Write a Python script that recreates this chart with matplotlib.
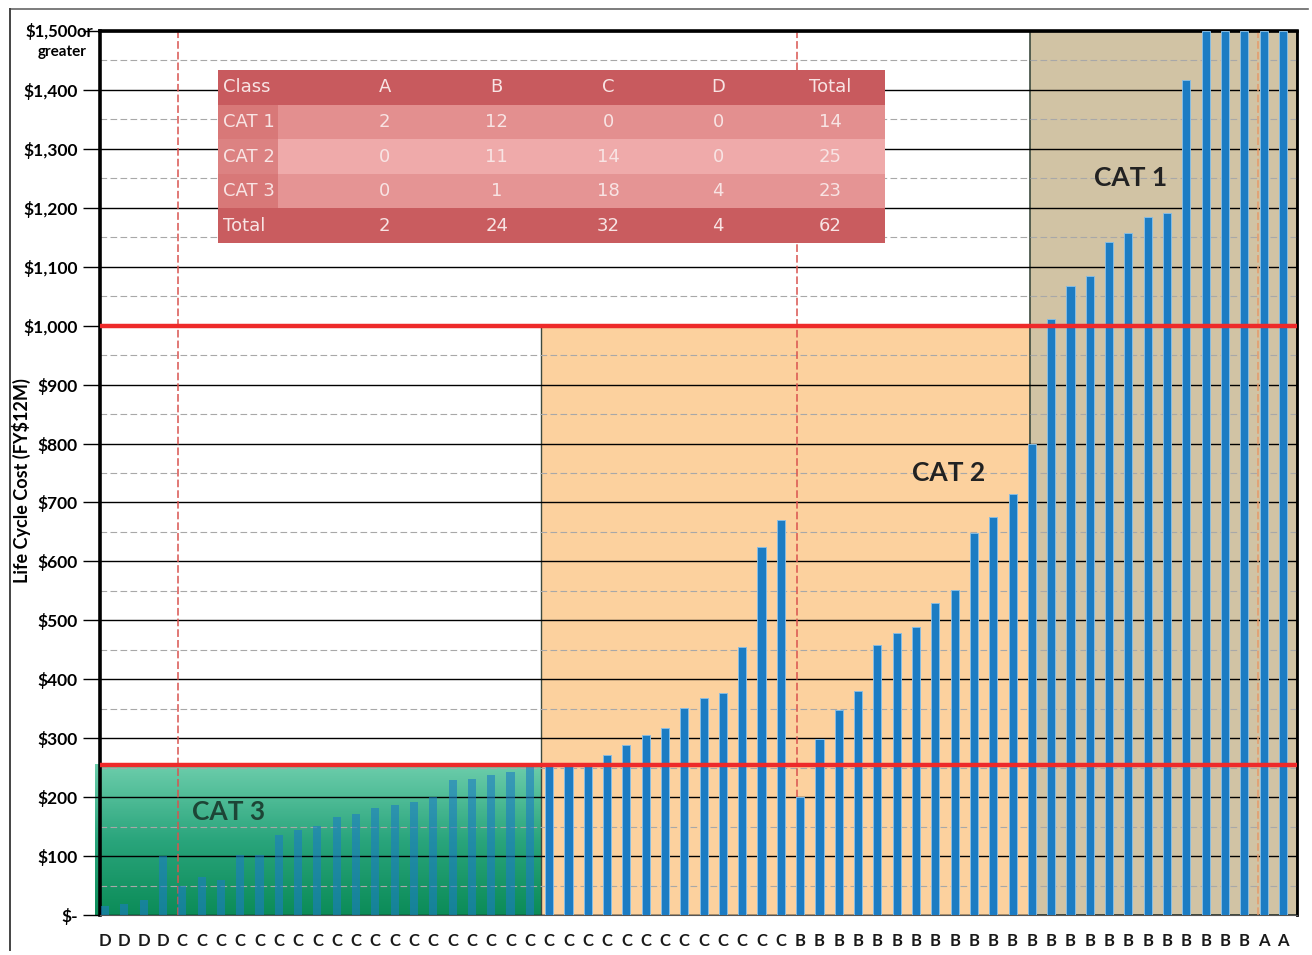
import numpy as np
import matplotlib
matplotlib.use("Agg")
import matplotlib.pyplot as plt
from matplotlib.colors import LinearSegmentedColormap
from matplotlib.patches import Rectangle
from matplotlib.lines import Line2D

# ---- data ----
classes = ["D"] * 4 + ["C"] * 32 + ["B"] * 24 + ["A"] * 2

life_cycle_cost = [
    15, 18, 25, 100,
    50, 65, 60, 102, 102, 136, 144, 151, 166, 172, 181, 187, 192, 200, 229, 230, 238, 243,
    252,
    255, 255, 258, 272, 289, 306, 317, 351, 368, 377, 455, 625, 670,
    200, 298, 348, 380, 458, 479, 488, 530, 551, 648, 675, 714, 800,
    1012, 1068, 1085, 1142, 1157, 1184, 1192, 1417, 1500, 1500, 1500, 1500, 1500,
]

cat_thresholds = [255, 1000]
cat_labels = ["CAT 3", "CAT 2", "CAT 1"]

table_cols = ["A", "B", "C", "D"]
table_rows = ["CAT 1", "CAT 2", "CAT 3"]
count_a = [2, 0, 0]
count_b = [12, 11, 1]
count_c = [0, 14, 18]
count_d = [0, 0, 4]

plt.rcParams['font.family'] = ['Lato', 'DejaVu Sans']

fig = plt.figure(figsize=(13.12, 9.55), dpi=100)
ax = fig.add_axes([100 / 1312, 40 / 955, 1197 / 1312, 884 / 955])

x = np.arange(len(classes))
x_left, x_right = -0.26, 61.73
green_end, orange_end = 22.6, 47.9

# category background blocks
green_cmap = LinearSegmentedColormap.from_list("cat3", ["#0c8c58", "#2aa57c", "#6ccdab"])
grad = np.linspace(0, 1, 64).reshape(-1, 1)
ax.imshow(grad, extent=[-0.52, green_end, 0, cat_thresholds[0]], origin='lower',
          aspect='auto', cmap=green_cmap, zorder=0, clip_on=False)
ax.add_patch(Rectangle((green_end, 0), orange_end - green_end, cat_thresholds[1],
                       facecolor='#fcd19e', edgecolor='#3d4a3f', linewidth=1, zorder=0))
ax.add_patch(Rectangle((orange_end, 0), x_right - orange_end, 1500,
                       facecolor='#d1c3a4', edgecolor='#3d4a3f', linewidth=1.2, zorder=0))

# grid
ax.set_yticks(range(0, 1501, 100))
ax.set_yticks(range(50, 1500, 100), minor=True)
ax.yaxis.grid(True, which='major', color='black', linewidth=1.0)
ax.yaxis.grid(True, which='minor', color='#a8a8a8', linewidth=0.8, linestyle=(0, (6, 3)))

# reference lines
for xv, col in [(3.78, '#d9534f'), (35.84, '#d9534f'), (59.7, '#e59a6a')]:
    ax.axvline(xv, color=col, linewidth=1.1, linestyle=(0, (5, 2)), zorder=2.5)

bars = ax.bar(x, life_cycle_cost, width=0.42, color='#1c7cc3', edgecolor='#86bce3',
              linewidth=0.7, zorder=3)
# bars inside the CAT 3 block show through the green fill
for xi, b in zip(x, bars):
    if xi < green_end:
        b.set_alpha(0.6)
        b.set_edgecolor('none')

for t in cat_thresholds:
    ax.axhline(t, color='#ee2a2a', linewidth=3.2, zorder=4)

ax.text(6.4, 175, cat_labels[0], fontsize=19, fontweight='bold', color='#1d4536',
        ha='center', va='center', zorder=5)
ax.text(43.7, 750, cat_labels[1], fontsize=19, fontweight='bold', color='#222222',
        ha='center', va='center', zorder=5)
ax.text(53.1, 1251, cat_labels[2], fontsize=19, fontweight='bold', color='#222222',
        ha='center', va='center', zorder=5)

ax.set_xlim(x_left, x_right)
ax.set_ylim(0, 1500)

ylabels = ["$-"] + [f"${v:,}" for v in range(100, 1500, 100)] + [""]
ax.set_yticklabels(ylabels, fontsize=12.5, fontweight='bold')
ax.tick_params(axis='y', which='major', length=12, width=1, color='black', pad=4)
ax.tick_params(axis='y', which='minor', length=0)
ax.annotate("$1,500or", xy=(0, 1500), xycoords=('axes fraction', 'data'),
            xytext=(-5, 0), textcoords='offset points', ha='right', va='center',
            fontsize=12, fontweight='bold', zorder=6)
ax.annotate("greater", xy=(0, 1500), xycoords=('axes fraction', 'data'),
            xytext=(-10, -15), textcoords='offset points', ha='right', va='center',
            fontsize=11, fontweight='bold')

ax.set_xticks(x)
ax.set_xticklabels(classes, fontsize=12, fontweight='bold', color='#1a1a1a')
ax.tick_params(axis='x', length=0, pad=13)

ax.set_ylabel("Life Cycle Cost (FY$12M)", fontsize=13, fontweight='bold')
ax.yaxis.set_label_coords(-0.0576, 0.492)

for side, lw in [('left', 2.6), ('top', 2.6), ('right', 2.0)]:
    ax.spines[side].set_linewidth(lw)
    ax.spines[side].set_color('black')
ax.spines['bottom'].set_linewidth(0.8)
ax.spines['bottom'].set_color('#555555')

# outer chart frame
fig.add_artist(Line2D([10 / 1312, 1308 / 1312], [1 - 9 / 955, 1 - 9 / 955],
                      color='#666666', linewidth=1.2))
fig.add_artist(Line2D([10 / 1312, 10 / 1312], [1 - 9 / 955, 5 / 955],
                      color='#444444', linewidth=1.4))

# ---- summary table ----
row_totals = [a + b + c + d for a, b, c, d in zip(count_a, count_b, count_c, count_d)]
col_totals = [sum(count_a), sum(count_b), sum(count_c), sum(count_d), sum(row_totals)]
body = [[count_a[i], count_b[i], count_c[i], count_d[i], row_totals[i]] for i in range(3)]

tax = fig.add_axes([218 / 1312, 1 - 243 / 955, 667 / 1312, 173 / 955])
tax.set_xlim(0, 1)
tax.set_ylim(5, 0)
tax.axis('off')
row_colors = ['#c85a5e', '#e38f8f', '#efaaaa', '#e59494', '#c95c5f']
first_col_colors = ['#c85a5e', '#d87878', '#dc8282', '#d87878', '#c95c5f']
col_x = [0.25, 0.418, 0.585, 0.75, 0.918]
for r in range(5):
    tax.add_patch(Rectangle((0, r), 1, 1, facecolor=row_colors[r], edgecolor='none'))
    tax.add_patch(Rectangle((0, r), 0.09, 1, facecolor=first_col_colors[r], edgecolor='none'))
txt = dict(fontsize=13, color='#f8e4e4', va='center', family=['DejaVu Sans'])
tax.text(0.008, 0.5, "Class", ha='left', **txt)
for c, name in enumerate(table_cols + ["Total"]):
    tax.text(col_x[c], 0.5, name, ha='center', **txt)
for r, name in enumerate(table_rows):
    tax.text(0.008, r + 1.5, name, ha='left', **txt)
    for c, v in enumerate(body[r]):
        tax.text(col_x[c], r + 1.5, str(v), ha='center', **txt)
tax.text(0.008, 4.5, "Total", ha='left', **txt)
for c, v in enumerate(col_totals):
    tax.text(col_x[c], 4.5, str(v), ha='center', **txt)

fig.savefig("out.png", dpi=100)
